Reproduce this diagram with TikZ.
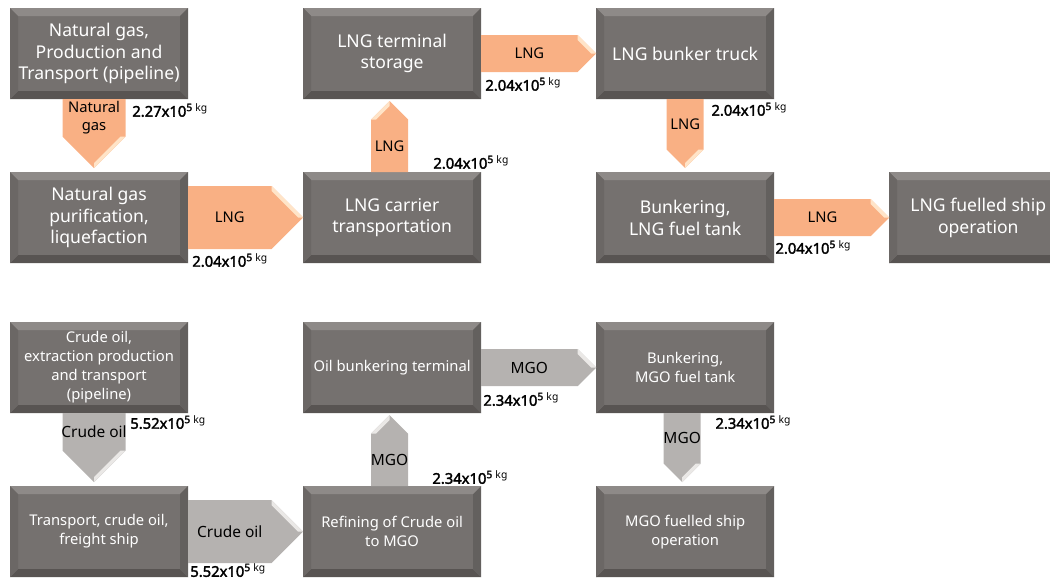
\documentclass[tikz,border=0pt]{standalone}
\usepackage{fontspec}
\setmainfont{Noto Sans}[AutoFakeBold=2.2]
\usetikzlibrary{positioning,calc}

\definecolor{boxface}{HTML}{75716F}
\definecolor{bevtop}{HTML}{8E8A88}
\definecolor{bevleft}{HTML}{6B6765}
\definecolor{bevright}{HTML}{63605E}
\definecolor{bevbottom}{HTML}{585452}
\definecolor{lngfill}{HTML}{F9B084}
\definecolor{lngfold}{HTML}{FFE4C8}
\definecolor{mgofill}{HTML}{B5B2B0}
\definecolor{mgofold}{HTML}{EAE8E6}

\newcommand{\bevw}{0.2cm}

% block arrows between two stages: from, to, half width, colour, label (, x shift)
\newcommand{\flowright}[5]{%
  \coordinate (fh) at ($(#2.west)+(-#3,0)$);
  \fill[#4fill] ($(#1.east)+(0,-#3)$) -- ($(#2.west)+(-#3,-#3)$) -- (#2.west)
    -- ($(#2.west)+(-#3,#3)$) -- ($(#1.east)+(0,#3)$) -- cycle;
  \fill[#4fold] ($(#2.west)+(-#3,-#3)$) -- (#2.west) -- ($(#2.west)+(-5,0)$)
    -- ($(#2.west)+(-#3,-#3+5)$) -- cycle;
  \node[#4text] at ($(#1.east)!0.5!(fh)$) {#5};
}
\newcommand{\flowdown}[6]{%
  \coordinate (fs) at ($(#1.south)+(#6,0)$);
  \coordinate (ft) at ($(#2.north)+(#6,-4)$);
  \coordinate (fh) at ($(ft)+(0,-#3)$);
  \fill[#4fill] ($(fs)+(-#3,0)$) -- ($(fs)+(#3,0)$) -- ($(ft)+(#3,-#3)$) -- (ft)
    -- ($(ft)+(-#3,-#3)$) -- cycle;
  \fill[#4fold] ($(ft)+(#3,-#3)$) -- (ft) -- ($(ft)+(0,-5)$) -- ($(ft)+(#3-5,-#3)$) -- cycle;
  \node[#4text] at ($(fs)!0.5!(fh)$) {#5};
}
\newcommand{\flowup}[6]{%
  \coordinate (fs) at ($(#1.north)+(#6,0)$);
  \coordinate (ft) at ($(#2.south)+(#6,2)$);
  \coordinate (fh) at ($(ft)+(0,#3)$);
  \fill[#4fill] ($(fs)+(-#3,0)$) -- ($(ft)+(-#3,#3)$) -- (ft) -- ($(ft)+(#3,#3)$)
    -- ($(fs)+(#3,0)$) -- cycle;
  \fill[#4fold] ($(ft)+(-#3,#3)$) -- (ft) -- ($(ft)+(0,5)$) -- ($(ft)+(-#3+5,#3)$) -- cycle;
  \node[#4text] at ($(fs)!0.5!(fh)$) {#5};
}
\newcommand{\mass}[2]{\textbf{#1x10\textsuperscript{#2}}\,\textsuperscript{kg}}

\tikzset{
  stage/.style={fill=boxface, text=white, align=center, inner sep=2pt, outer sep=0pt,
    minimum width=4.45cm, minimum height=2.275cm,
    path picture={
      \path (path picture bounding box.north west) coordinate (bnw)
            (path picture bounding box.north east) coordinate (bne)
            (path picture bounding box.south west) coordinate (bsw)
            (path picture bounding box.south east) coordinate (bse);
      \fill[bevtop] (bnw) -- (bne) -- ++(-\bevw,-\bevw) -- ($(bnw)+(\bevw,-\bevw)$) -- cycle;
      \fill[bevbottom] (bsw) -- (bse) -- ++(-\bevw,\bevw) -- ($(bsw)+(\bevw,\bevw)$) -- cycle;
      \fill[bevleft] (bnw) -- (bsw) -- ++(\bevw,\bevw) -- ($(bnw)+(\bevw,-\bevw)$) -- cycle;
      \fill[bevright] (bne) -- (bse) -- ++(-\bevw,\bevw) -- ($(bne)+(-\bevw,-\bevw)$) -- cycle;
    }},
  gasbox/.style={stage, font=\fontsize{12.5}{15.5}\selectfont},
  oilbox/.style={stage, font=\fontsize{10.5}{13.5}\selectfont},
  lngtext/.style={align=center, inner sep=0pt, font=\fontsize{10.5}{13}\selectfont},
  mgotext/.style={align=center, inner sep=0pt, font=\fontsize{11}{13}\selectfont},
  amount/.style={anchor=west, inner sep=0pt, font=\fontsize{10.5}{12}\selectfont},
}

\begin{document}
\begin{tikzpicture}[x=0.025cm, y=-0.025cm, node distance=1.825cm and 2.875cm]
\useasboundingbox (0,0) rectangle (1050,580);

% LNG chain
\node[gasbox, anchor=north west] (gasprod) at (10,8) {Natural gas,\\Production and\\Transport (pipeline)};
\node[gasbox] (liquef) [below=of gasprod] {Natural gas\\purification,\\liquefaction};
\node[gasbox] (lngcarrier) [right=of liquef] {LNG carrier\\transportation};
\node[gasbox] (lngterminal) [right=of gasprod] {LNG terminal\\storage};
\node[gasbox] (bunktruck) [right=of lngterminal] {LNG bunker truck};
\node[gasbox] (lngtank) [below=of bunktruck] {Bunkering,\\LNG fuel tank};
\node[gasbox] (lngship) [right=of lngtank] {LNG fuelled ship\\operation};

% MGO chain
\node[oilbox] (crudeprod) [below=1.475cm of liquef] {Crude oil,\\extraction production\\and transport\\(pipeline)};
\node[oilbox] (crudeship) [below=of crudeprod] {Transport, crude oil,\\freight ship};
\node[oilbox] (refinery) [right=of crudeship] {Refining of Crude oil\\to MGO};
\node[oilbox] (oilterminal) [right=of crudeprod] {Oil bunkering terminal};
\node[oilbox] (mgotank) [right=of oilterminal] {Bunkering,\\MGO fuel tank};
\node[oilbox] (mgoship) [below=of mgotank] {MGO fuelled ship\\operation};

\flowdown{gasprod}{liquef}{31.5}{lng}{Natural\\gas}{-5}
\flowright{liquef}{lngcarrier}{31.5}{lng}{LNG}
\flowup{lngcarrier}{lngterminal}{18.5}{lng}{LNG}{-2.5}
\flowright{lngterminal}{bunktruck}{18.5}{lng}{LNG}
\flowdown{bunktruck}{lngtank}{18.5}{lng}{LNG}{0}
\flowright{lngtank}{lngship}{18.5}{lng}{LNG}

\flowdown{crudeprod}{crudeship}{31.5}{mgo}{Crude oil}{-5}
\flowright{crudeship}{refinery}{31.5}{mgo}{Crude oil}
\flowup{refinery}{oilterminal}{18.5}{mgo}{MGO}{-2.5}
\flowright{oilterminal}{mgotank}{18.5}{mgo}{MGO}
\flowdown{mgotank}{mgoship}{18.5}{mgo}{MGO}{-3}

\node[amount] (m1) at ($(gasprod.south east)+(-56,11)$) {\mass{2.27}{5}};
\node[amount] (m2) at ($(liquef.south east)+(4,-3)$) {\mass{2.04}{5}};
\node[amount] (m3) at ($(lngcarrier.north east)+(-48,-10)$) {\mass{2.04}{5}};
\node[amount] (m4) at ($(lngterminal.south east)+(4,-15)$) {\mass{2.04}{5}};
\node[amount] (m5) at ($(bunktruck.south east)+(-63,10)$) {\mass{2.04}{5}};
\node[amount] (m6) at ($(lngtank.south east)+(1,-16)$) {\mass{2.04}{5}};
\node[amount] (m7) at ($(crudeprod.south east)+(-58,9)$) {\mass{5.52}{5}};
\node[amount] (m8) at ($(crudeship.south east)+(2,-7)$) {\mass{5.52}{5}};
\node[amount] (m9) at ($(oilterminal.south east)+(2,-14)$) {\mass{2.34}{5}};
\node[amount] (m10) at ($(refinery.north east)+(-49,-9)$) {\mass{2.34}{5}};
\node[amount] (m11) at ($(mgotank.south east)+(-59,9)$) {\mass{2.34}{5}};
\end{tikzpicture}
\end{document}
